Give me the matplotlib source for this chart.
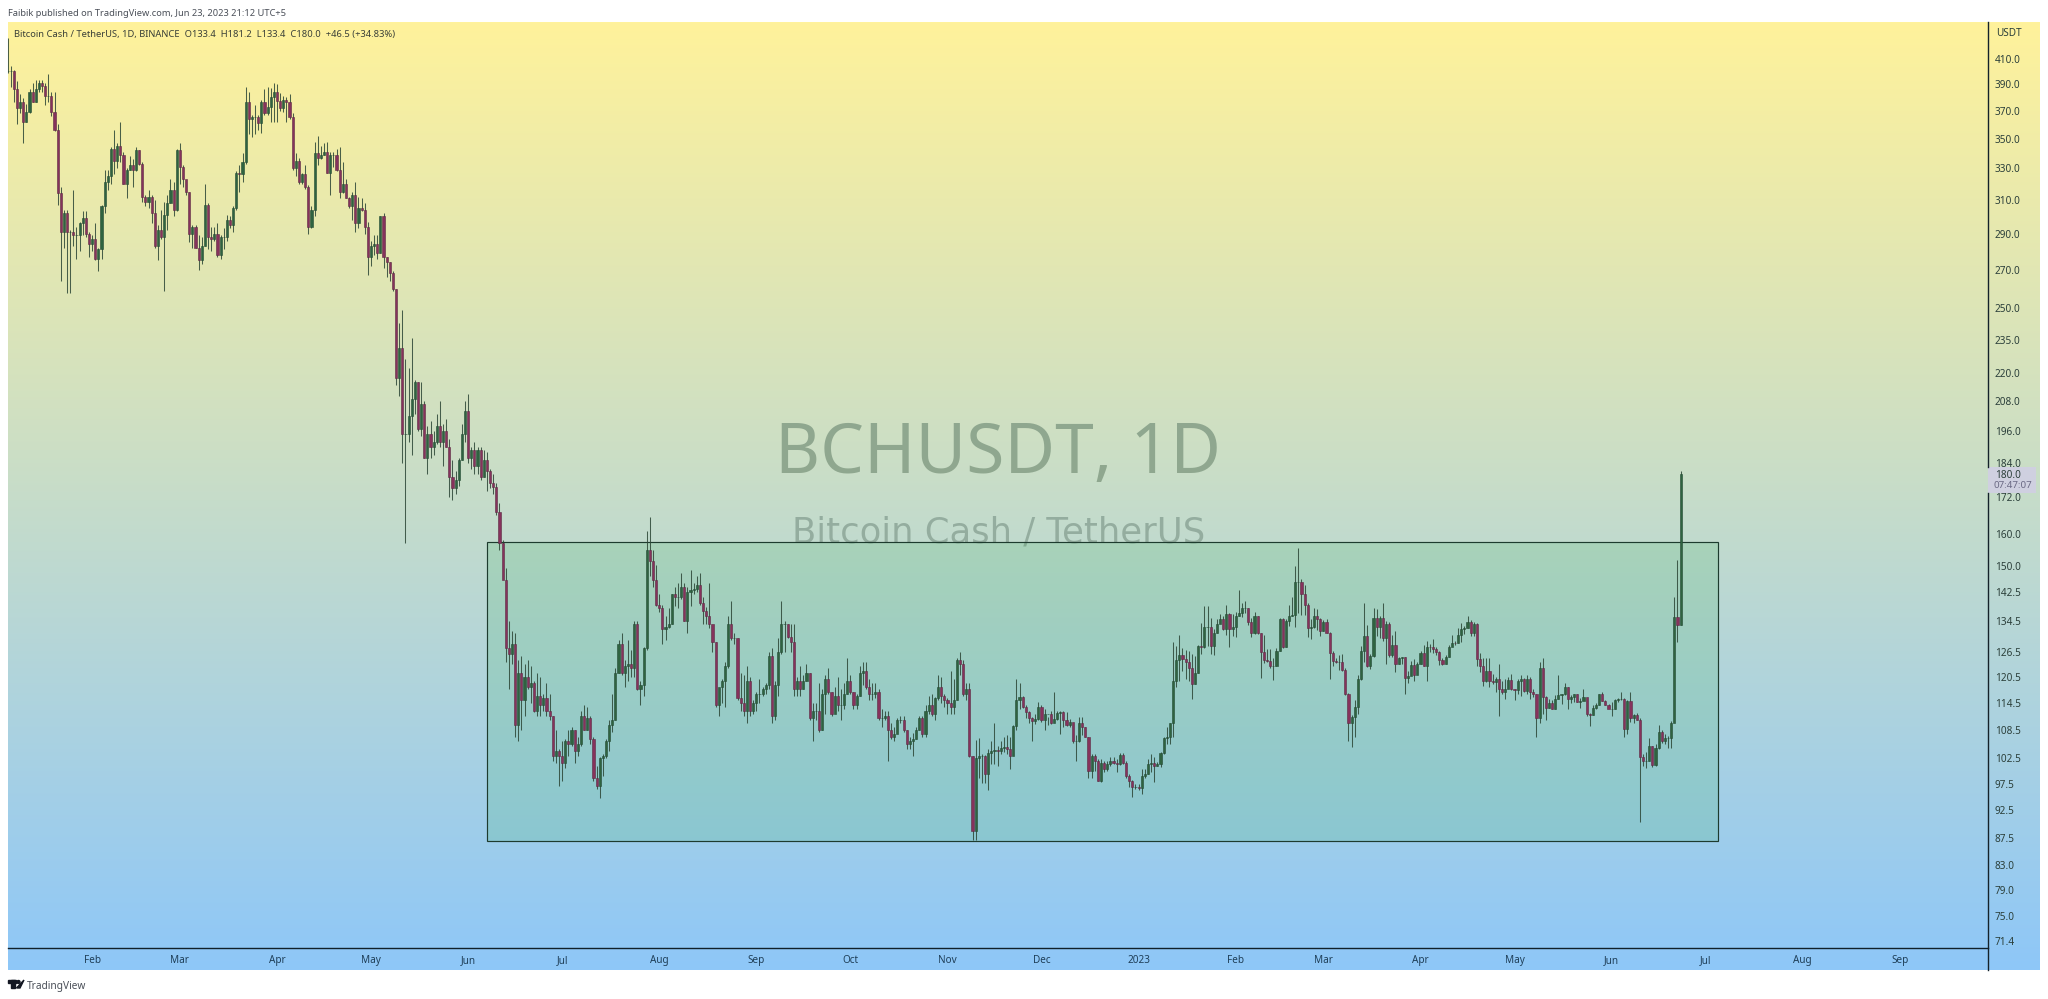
import numpy as np
import pandas as pd
import matplotlib
matplotlib.use('Agg')
import matplotlib.pyplot as plt
import matplotlib.dates as mdates
from matplotlib.patches import Rectangle, Polygon, Circle

W, H = 2048, 999

start_date = '2022-01-05'

# daily candles. opens follow the previous close
closes_a = [400,
    400,386,372,376,362,369,384,376,386,391,388.5,381,381,369,356,314,291,302,291,291,
    289,289,296,299,290,284,287,276,281,306,321,325,343,335,345,339,320,329,332,329,
    342,333,312,309,312,302,283,292,288,301,308,316,304,342,331,323,315,290,294,282,
    275,283,307,288,287,290,278,288,288,298,295,305,327,326,334,376,364,365,365,361,
    376,368,373,380,384,377,372,378,376,365,330,335,321,326,318,294,304,340,337,339,
    341,327,339,339,329,315,320,311,306,313,296,305,304,294,277,283,284,279,300,277,
    274,268,260,
    218,231,195,195,202,209,216,197,207,186,195,190,192,198,192,196,190,179,175,178,
    185,195,204,186,189,183,189,179,185,181,177,175.5,167,157]
highs_a = [427,
    404,401,392,382,379,375,386,391,393.5,393,393.5,391,398,384,384,360,318,304,304,292,
    316,294,297,303,303,291,289,296,282,307,329,329,344,356,347,362,341,330,338,336,
    344,342,334,313,316,313,310,295,304,309,313,323,321,343,347,332,321,315,295,295,
    289,288,320,308,294,294,296,289,293,301,300,306,328,332,340,388,384,367,374,367,
    378,386,388,387,391,390,383,381,380,382,368,340,337,327,332,319,306,348,352,345,
    347,348,341,341,343,344,334,323,312,315,321,312,311,308,297,286,289,289,300,302,
    277,274,269,
    260,243,249,226,222,236,217,216,216,208,198,200,196,203,208,199,201,193,185,181,
    186,199,208,211,190,192,190,190,189,188,182,180,177,170]
lows_a = [399,
    388,376,360,368,347,362,368,376,376,384,384,374,376,366,355,307,264,282,258,258,
    283,276,280,289,288,277,280,275,269,276,302,316,320,326,330,334,320,311,329,318,
    328,332,309,306,305,296,282,275,287,259,292,308,300,303,320,318,313,285,282,282,
    270,273,283,281,280,286,277,276,281,286,293,291,304,315,321,333,353,351,353,356,
    354,367,367,362,362,362,370,369,362,364,329,325,320,320,317,290,293,300,332,336,
    339,327,313,331,328,311,314,311,305,298,291,293,303,290,267,272,278,276,279,271,
    266,264,259,
    215,210,184,157,192,187,203,196,194,186,180,186,187,191,190,183,190,172,171,173,
    176,185,192,184,182,180,180,178,179,174,175,173,166,155]

closes_b = [146,127.5,126,128.5,109.5,121.5,115,120.5,118,119,112.5,116,114,115.5,112.5,111.5,103,104,103,101.5,
    106,105.5,108.5,104,105.5,111.5,108.5,111,106.5,98.5,97,102.5,103,106,109.5,110.5,121.5,128.5,121.5,123,
    123.5,122.5,133.7,117.5,118.5,127.5,155,151.5,146,139,138,132.5,133,133.7,142,141,141,144,134.7,142.5,
    143,143.5,144.5,139.5,137.3,135.8,133.7,129,114,118,119.5,123,133.7,130,130,115.5,114.5,112.5,119.5,112.5,
    114.5,116.5,116.5,117.5,118.5,125.5,111.5,118.5,126.5,133.7,133.7,130.5,129,117.5,119.5,117.5,119.5,121.5,111,112.5,
    112.5,108.5,116.5,120,117,112,116,114,114,116.5,119.5,117,114,116,121.5,122,118,116.5,116.5,117,
    111,111,111.5,108.5,107,107.5,110.5,110.5,108.5,105.5,106,106.5,108.5,111,107.5,112.5,114,112,115.5,118,
    116,115,114.5,113.5,115,124.5,123.5,116.5,117.5,103]
highs_b = [158,149.5,134.7,132,131.5,124.5,125.5,123.5,124.5,123,119.5,121.5,120.5,116.5,119,116.5,111.5,108.5,104.5,106,
    106.5,108.5,109,108.5,107,112.5,114,113.5,111.5,107,101,102.7,103.5,106.5,110.5,116.5,122.5,129.5,131.5,124.5,
    129.5,127,134.7,134.7,119.5,127.8,161,165.5,155,150.5,142,139,136,138,142,144,145,148,145,144,
    149,145,147,148,141,138.3,145,133,129,117.5,120,124,136,140,131.5,130,121.5,121,123,120.5,
    115,117,120,118,119,126.5,127.5,119.5,130,140,134.7,133.7,133.7,133.7,120.5,123,121,123.5,121.5,114.5,
    114.5,119,117.5,121,122.5,117,118,120.5,117.5,119,125,121,117,116.5,123,124,124,120,119,119,
    117.5,113,112.5,112.5,110,109,111,111.5,111.5,108.5,107,107.7,109,111.5,111.5,114,116,116.5,115.8,121,
    120.5,116.5,115.5,122,120,125,126.5,124.5,119,119]
lows_b = [146.5,124,117.5,123.5,107,106,108.5,111.5,117.5,114.5,112.3,111.5,111.5,112.5,111.5,110.5,102,101.5,97,98,
    100.5,103,105,101.5,103,105,108.5,108.5,105.5,98,96.5,94.7,99,102.5,104,108,110.5,121.5,121,118,
    119.5,120.5,120.5,117.3,114,116,127,147,144,138.5,137,128.5,129.5,132.7,133.7,138.5,138,140.5,134.5,131.5,
    138.5,142,142.5,139,133.7,133.7,132.7,126.5,113.5,111.5,114.5,113.5,122.5,129.5,128.5,115,112.5,111.5,110,111.5,
    112,112.5,114.5,116,116.5,117.5,110,110.5,116,126,126.5,130,126.5,116,116,116,117.5,119.5,110.5,106,
    110.5,108,108.5,112,116.5,111.5,112.5,112.5,110.5,113,116.5,116.5,113,113,116,118.5,117.5,115,115,115.5,
    110.5,109,110.5,102,106.5,106,108,110,108,104.5,104.5,103,106.5,108.5,107,107,112,111.5,110.5,115,
    114.5,113.5,112,112,112,115,121,116,115,102.7]

closes_c = [88.7,102.5,103,103,99.4,103.7,104,104.2,104,104.6,104.8,104.5,103,109.4,115,115.8,113.5,112.3,111,110.3,
    110.9,113.5,110.5,112,112,110,110.9,112.2,112.3,110.5,109.5,110.1,106,106,110,109,107,100,103,102,
    98,101.6,100.4,101.3,101.9,101.6,101.3,103.2,101.6,99,98,96.8,96.8,96.7,99,99.4,101.3,101.5,101,101.3,
    103.7,106.7,107,110,119.6,124.6,125.8,124.9,124,122.6,118.7,121.3,128,127.8,133,133,128,131.3,133.8,135,
    132.5,136.5,132.5,133,136,136.7,138,138,134.2,131.3,135.8,131.3,126.5,
    124.5,124.3,123,123,126.7,135,127.8,134.7,136,136.2,145.5,145.5,142,139,132.7,133,136,135.2,132,134.2,
    131.5,126.3,124.3,124,124,122.2,116.5,110,111.2,113.5,120,126.7,130.7,123,125.5,135.3,133,135.5,130,133.8,
    125.7,128.4,123.7,125,125.2,120.2,120.8,123.3,121,123.7,126.2,123,127.8,127.7,127.2,126.5,124.5,123.7,125.3,127.8,
    128.9,128.8,130.8,
    132.5,132.6,134.2,131.5,133.8,124.7,123,119.6,122,119.6,119.2,120,117.7,116.8,117.7,119.8,117.7,117.3,119.5,120,
    117.2,120,116.8,116.5,111,122.7,115.7,113.3,114.4,113,115.2,116.2,116.5,118,115.2,115.7,116.5,114.6,114.8,115.7,
    112,111.8,113.3,114,116.4,114.8,113.9,113.1,113.1,115,115.4,115.4,108.6,114.8,111,111.8,110.7,102.7,102,102,
    105,101.2,104.6,108,106.2,106.7,106.7,110,135.6,133.4,180]
highs_c = [103,106.4,106.8,103.5,103.2,104.5,106,110,105,106,107,107.4,107,109.6,120,119,116,114,112.5,111.2,
    112,114.6,114,113,111.2,112.5,117,112.5,112.5,112.5,112.3,110.9,110,107.4,111.3,111.3,109,107,103.4,103.5,
    102.3,102.3,102,102,102.7,102.8,102.3,103.7,103.7,101.9,99.3,98.3,97.4,97.4,100.4,100.4,102.3,103.4,102.7,101.7,
    103.9,107,109,110,129,128,131,127.5,127,126.8,126,125.5,128.2,134,138.5,138.5,135.5,132.4,135,136.5,
    136,138.8,136.7,136.5,137,143,139.5,140,138.2,135.5,137,136,131.5,
    130.9,127.2,127.2,125,127.5,135.5,135.5,135.2,138.8,141,150,155.6,146.3,144.6,139.5,135.2,138.2,137.8,135.3,134.9,
    135,131.6,126.8,125,125.9,126,122.5,116.7,111.6,115,121,128,139.5,133.4,126.1,138,137.8,136,139.5,134.7,
    134.2,130.8,132,125.4,125.4,125.4,122,124.4,124.9,124,126.7,128.2,129.4,128.5,129.8,127.8,126.7,125,125.7,128.2,
    130.8,129.4,132.6,
    134,133.3,136,134.9,134.4,134,126.2,125,125,125,121.2,120.5,123.5,119.6,120,120.5,121.2,117.7,119.9,120.9,
    120.3,121,120.5,117.7,116.5,124,125,115.9,115.2,115,116.2,121,116.5,119,118,116.2,116.5,116.5,115.6,117.5,
    115.6,112.2,114,114.5,116.5,117,115,114.2,114.7,115.4,115.6,116.8,115.6,115,117,112,112.2,111,103.5,103.9,
    106.7,105,105.4,109.5,108.5,107.5,107.1,110.4,141,152,181.2]
lows_c = [87.2,87.2,98.6,97.7,97.7,96.3,101.3,101.3,101,103.5,103.8,103.5,100.4,103.2,108.5,113,113.2,111,110,106,
    109.8,110.5,110.1,108.5,109.6,109.8,110.1,110.5,107.5,109,109.2,109,105.6,102,105.9,107.3,106.9,98.6,98.6,100,
    98,97.9,99.7,100,101,101.3,99.7,101.1,101.3,98.6,96.8,95,96.5,96.3,95.5,98.6,99.4,99.7,97.9,100.9,
    100.7,103.5,105.5,105.5,107,118,119.5,122,120,119.6,115.3,118.7,121.3,126,127.5,128,126,125.7,131.3,134.2,
    132.1,131,127.7,130.7,130.3,135.8,135.7,136.7,133.4,130.5,131.1,131.1,120.3,
    123.9,124.1,122.6,119.8,123,126.7,127.5,127.7,133.3,135.8,133,136.7,136.2,136.2,130.5,129.8,132.7,132.3,130.7,132,
    131.3,120,123,123.8,122.2,122,116.2,106,104.8,107,112,119.8,124,122.9,122.3,125.2,130.7,130,129.4,123.7,
    125.4,125.2,121.6,123.7,123.7,116.5,119,122.6,119.6,121.5,123.7,123,119.6,126.5,126.2,125.7,123.4,123.3,123.5,125.3,
    128.7,128.3,128.8,
    129,131.2,132.7,130.7,130.7,123,121.7,118.2,119.2,118,118.7,116.8,111.4,116.5,115.4,117.9,117.4,115,116.5,116.1,
    116.8,116.5,115.4,115.8,107,110,111.9,110.6,113.2,113,113.1,115.4,114.2,116.2,113,114.4,114.6,114.6,113.3,115,
    111.4,109.3,111.6,113.1,113.9,114.8,113.9,113.2,111.4,113.1,114.6,115,107,107.5,110.2,110,110.6,90.3,101,100.5,
    102,100.7,101,104.4,105.7,105.4,104.6,104.7,110.2,129,133.4]

price_ticks = [410, 390, 370, 350, 330, 310, 290, 270, 250, 235, 220, 208, 196, 184, 172, 160, 150,
               142.5, 134.5, 126.5, 120.5, 114.5, 108.5, 102.5, 97.5, 92.5, 87.5, 83, 79, 75, 71.4]
month_ticks = ['2022-02-01', '2022-03-01', '2022-04-01', '2022-05-01', '2022-06-01', '2022-07-01',
               '2022-08-01', '2022-09-01', '2022-10-01', '2022-11-01', '2022-12-01', '2023-01-01',
               '2023-02-01', '2023-03-01', '2023-04-01', '2023-05-01', '2023-06-01', '2023-07-01',
               '2023-08-01', '2023-09-01']
month_labels = ['Feb', 'Mar', 'Apr', 'May', 'Jun', 'Jul', 'Aug', 'Sep', 'Oct', 'Nov', 'Dec', '2023',
                'Feb', 'Mar', 'Apr', 'May', 'Jun', 'Jul', 'Aug', 'Sep']

# range box drawn on the chart
box_start, box_end = '2022-06-07', '2023-07-05'
box_low, box_high = 87.0, 157.4

if not (len(closes_a) == len(highs_a) == len(lows_a) and len(closes_b) == len(highs_b) == len(lows_b)
        and len(closes_c) == len(highs_c) == len(lows_c)):
    raise ValueError(str([len(x) for x in (closes_a, highs_a, lows_a, closes_b, highs_b, lows_b, closes_c, highs_c, lows_c)]))

closes = np.array(closes_a + closes_b + closes_c)
highs = np.array(highs_a + highs_b + highs_c)
lows = np.array(lows_a + lows_b + lows_c)
opens = np.r_[closes[0], closes[:-1]]
dates = mdates.date2num(pd.date_range(start_date, periods=len(closes)))

plt.rcParams['font.family'] = ['Noto Sans', 'DejaVu Sans']

fig = plt.figure(figsize=(W / 100, H / 100), dpi=100, facecolor='white')


def px_axes(x0, y0, x1, y1):
    return fig.add_axes([x0 / W, 1 - y1 / H, (x1 - x0) / W, (y1 - y0) / H])


def px_text(x, y, s, **kw):
    kw.setdefault('va', 'center')
    return fig.text(x / W, 1 - y / H, s, **kw)


# background gradient
bg = px_axes(8, 22, 2040, 970)
top_col = np.array([255, 242, 155]) / 255
bot_col = np.array([142, 199, 248]) / 255
t = np.linspace(0, 1, 948)[:, None, None]
bg.imshow(top_col * (1 - t) + bot_col * t, aspect='auto')
bg.axis('off')

# main chart
ax = px_axes(8, 22, 1988, 948)
ax.patch.set_alpha(0)
ax.set_yscale('log')
ax.set_ylim(70.4, 441)
x0 = dates[0] + (8 - 7.57) / 3.133
ax.set_xlim(x0, x0 + 1980 / 3.133)

ax.text(0.5002, 0.532, 'BCHUSDT, 1D', transform=ax.transAxes, ha='center', va='center',
        fontsize=50, color='#8fa78f', family='Noto Sans', zorder=1)
ax.text(0.5002, 0.4485, 'Bitcoin Cash / TetherUS', transform=ax.transAxes, ha='center', va='center',
        fontsize=25.5, color='#94ad9f', family='DejaVu Sans', zorder=1)

b0, b1 = mdates.datestr2num(box_start), mdates.datestr2num(box_end)
ax.add_patch(Rectangle((b0, box_low), b1 - b0, box_high - box_low, facecolor=(50 / 255, 172 / 255, 85 / 255, 0.17),
                       edgecolor='#1d3b2e', linewidth=0.85, zorder=2))

up = closes >= opens
ax.vlines(dates, lows, highs, color='#2c4636', linewidth=0.75, alpha=0.85, zorder=3, clip_on=False)
ax.bar(dates[up], (closes - opens)[up], bottom=opens[up], width=0.68, color='#2f6340',
       edgecolor='#234a34', linewidth=0.4, zorder=4)
ax.bar(dates[~up], (opens - closes)[~up], bottom=closes[~up], width=0.68, color='#86325c',
       edgecolor='#5c2a42', linewidth=0.4, zorder=4)

ax.yaxis.tick_right()
ax.set_yticks(price_ticks)
ax.set_yticklabels([f'{p:.1f}' for p in price_ticks], fontsize=7.2, color='#2b3f3a')
ax.minorticks_off()
ax.tick_params(axis='y', length=0, pad=5)
ax.set_xticks(mdates.datestr2num(month_ticks))
ax.set_xticklabels(month_labels, fontsize=7.2, color='#1f3f58')
ax.get_xticklabels()[11].set_fontweight('bold')
ax.tick_params(axis='x', length=0, pad=5)
for side in ('top', 'left'):
    ax.spines[side].set_visible(False)
ax.spines['bottom'].set_color('#10202a')
ax.spines['bottom'].set_linewidth(1.0)
ax.spines['right'].set_visible(False)

# price axis line, it stops behind the last price label
over = px_axes(0, 0, W, H)
over.set_xlim(0, W)
over.set_ylim(H, 0)
over.axis('off')
over.patch.set_alpha(0)
over.plot([1988, 1988], [22, 467], color='#14222a', lw=1.0)
over.plot([1988, 1988], [493, 970], color='#14222a', lw=1.0)
over.add_patch(Rectangle((1988, 467), 48, 26, facecolor='#cfd0e0', edgecolor='none'))
# logo
over.add_patch(Rectangle((8, 980), 8, 2.5, color='#131722'))
over.add_patch(Rectangle((11, 980), 4, 8, color='#131722'))
over.add_patch(Circle((18.5, 982), 1.5, color='#131722'))
over.add_patch(Polygon([[20, 988], [24, 980], [24, 980], [16.5, 988]], color='#131722'))

px_text(8, 13, 'Faibik published on TradingView.com, Jun 23, 2023 21:12 UTC+5', fontsize=6.7, color='#4a4f58')
px_text(14, 35, 'Bitcoin Cash / TetherUS, 1D, BINANCE  O133.4  H181.2  L133.4  C180.0  +46.5 (+34.83%)',
        fontsize=6.75, color='#3a4038')
px_text(1996, 33, 'USDT', fontsize=7.2, color='#2b3f3a')
px_text(1995, 475, '180.0', fontsize=7.2, color='#2b3f3a')
px_text(1994, 486, '07:47:07', fontsize=7.0, color='#6b6a85')
px_text(27, 986, 'TradingView', fontsize=7.3, color='#4a4f58')

fig.savefig('out.png', dpi=100)
